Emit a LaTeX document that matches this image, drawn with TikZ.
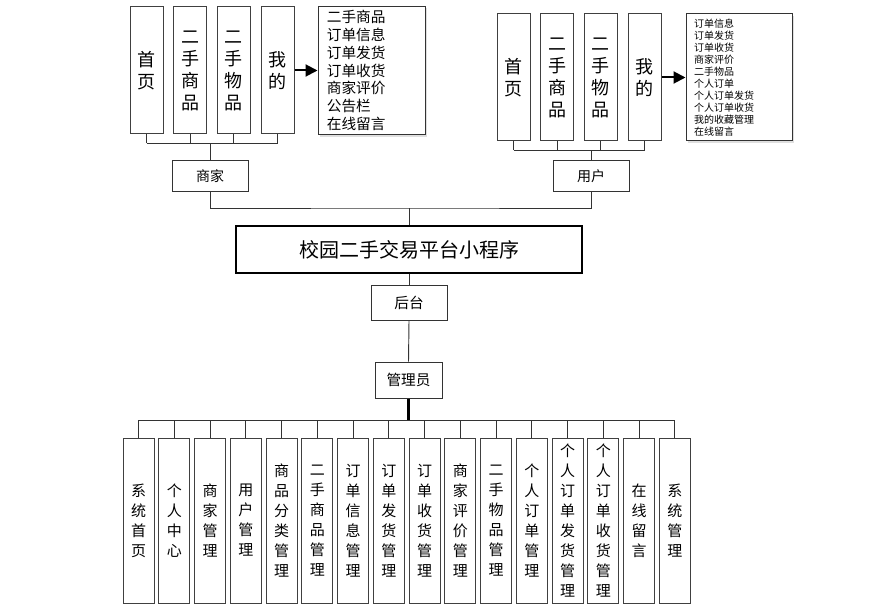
\documentclass[tikz,border=0pt]{standalone}
\usepackage{fontspec}
\setmainfont{Noto Sans CJK SC}
\usetikzlibrary{arrows.meta,shadows}

\tikzset{
	menubox/.style={draw=black!75,line width=0.75pt,fill=white,inner sep=0pt,align=center,
		minimum width=24.75pt,minimum height=95.25pt,font=\fontsize{13.5}{16.5}\selectfont},
	funcbox/.style={draw=black!75,line width=0.75pt,fill=white,inner sep=0pt,align=center,
		minimum width=23.25pt,minimum height=123.75pt,font=\fontsize{11.25}{15}\selectfont},
	rolebox/.style={draw=black!80,line width=0.75pt,fill=white,inner sep=0pt,
		font=\fontsize{10.5}{12}\selectfont},
	listbox/.style={draw=black!80,line width=0.75pt,fill=white,align=left,
		drop shadow={shadow xshift=1.2pt,shadow yshift=-1.2pt,fill=black!25}},
	link/.style={draw=black!80,line width=0.7pt},
	trunk/.style={draw=black,line width=1.6pt},
	menuarrow/.style={draw=black,line width=1.5pt,-{Triangle[length=9pt,width=9pt]}}
}

\begin{document}
\begin{tikzpicture}[x=0.75pt,y=-0.75pt]
	\useasboundingbox (0,0) rectangle (870,606);

	% 商家端
	\foreach \txt [count=\i] in {{首\\页},{二\\手\\商\\品},{二\\手\\物\\品},{我\\的}}
		\node[menubox] (sj\i) at ({146.5+43.7*(\i-1)},70.5) {\txt};
	\node[listbox,minimum width=80.25pt,minimum height=95.25pt,inner xsep=6.5pt,
		font=\fontsize{11}{13.3}\selectfont,text width=67pt] (sjlist) at (371.5,70.5)
		{二手商品\\订单信息\\订单发货\\订单收货\\商家评价\\公告栏\\在线留言};
	\draw[menuarrow] (sj4.east) -- (sjlist.west);
	\node[rolebox,minimum width=57pt,minimum height=22.5pt] (shangjia) at (210,176) {商家};
	\coordinate (sjbus) at (210,143);
	\foreach \i in {1,...,4}
		\draw[link] (sj\i.south) -- (sj\i.south |- sjbus);
	\draw[link] (sj1.south |- sjbus) -- (sj4.south |- sjbus);
	\draw[link] (shangjia.north) -- (shangjia.north |- sjbus);

	% 用户端
	\foreach \txt [count=\i] in {{首\\页},{二\\手\\商\\品},{二\\手\\物\\品},{我\\的}}
		\node[menubox] (yh\i) at ({513.5+43.7*(\i-1)},77.5) {\txt};
	\node[listbox,minimum width=79.5pt,minimum height=95.25pt,inner xsep=6pt,
		font=\fontsize{7.5}{9}\selectfont,text width=67.5pt] (yhlist) at (739,77.5)
		{订单信息\\订单发货\\订单收货\\商家评价\\二手物品\\个人订单\\个人订单发货\\个人订单收货\\我的收藏管理\\在线留言};
	\draw[menuarrow] (yh4.east) -- (yhlist.west);
	\node[rolebox,minimum width=57pt,minimum height=22.5pt] (yonghu) at (591,176) {用户};
	\coordinate (yhbus) at (591,150);
	\foreach \i in {1,...,4}
		\draw[link] (yh\i.south) -- (yh\i.south |- yhbus);
	\draw[link] (yh1.south |- yhbus) -- (yh4.south |- yhbus);
	\draw[link] (yonghu.north) -- (yonghu.north |- yhbus);

	% 小程序
	\node[draw=black,line width=0.8pt,minimum width=259.5pt,minimum height=35.25pt,inner sep=0pt,
		font=\fontsize{15}{18}\selectfont] (app) at (409,249.5) {校园二手交易平台小程序};
	\coordinate (topbus) at (409,208);
	\draw[link] (shangjia.south) |- (topbus) -| (yonghu.south);
	\draw[link] (topbus) -- (app.north);

	% 后台
	\node[rolebox,minimum width=57pt,minimum height=26.25pt,font=\fontsize{11}{13}\selectfont]
		(houtai) at (409,302.5) {后台};
	\node[rolebox,minimum width=50.25pt,minimum height=27pt,font=\fontsize{11}{13}\selectfont]
		(admin) at (408.5,380) {管理员};
	\draw[link] (app.south) -- (houtai.north);
	\draw[link] (houtai.south) -- (admin.north);

	\foreach \txt [count=\i] in {{系\\统\\首\\页},{个\\人\\中\\心},{商\\家\\管\\理},{用\\户\\管\\理},
		{商\\品\\分\\类\\管\\理},{二\\手\\商\\品\\管\\理},{订\\单\\信\\息\\管\\理},{订\\单\\发\\货\\管\\理},
		{订\\单\\收\\货\\管\\理},{商\\家\\评\\价\\管\\理},{二\\手\\物\\品\\管\\理},{个\\人\\订\\单\\管\\理},
		{个\\人\\订\\单\\发\\货\\管\\理},{个\\人\\订\\单\\收\\货\\管\\理},{在\\线\\留\\言},{系\\统\\管\\理}}
		\node[funcbox] (gl\i) at ({138.5+35.75*(\i-1)},520.5) {\txt};
	\coordinate (adminbus) at (408.5,420);
	\draw[trunk] (admin.south) -- (adminbus);
	\draw[link] (gl1.north |- adminbus) -- (gl16.north |- adminbus);
	\foreach \i in {1,...,16}
		\draw[link] (gl\i.north |- adminbus) -- (gl\i.north);
\end{tikzpicture}
\end{document}
